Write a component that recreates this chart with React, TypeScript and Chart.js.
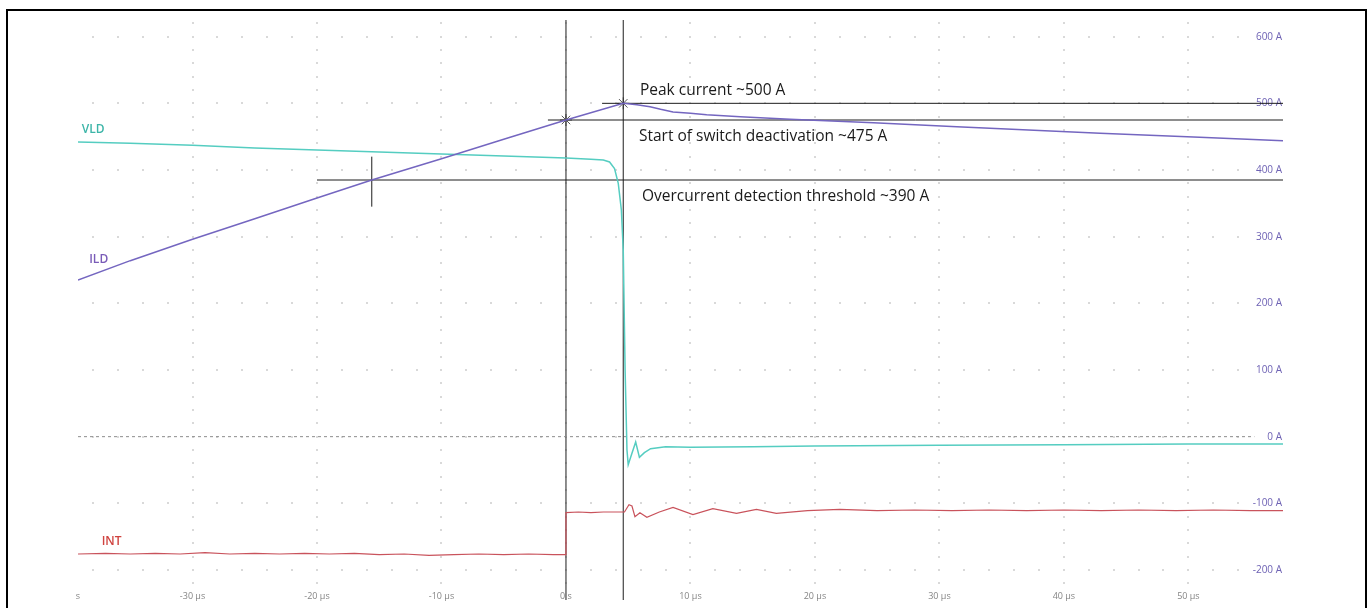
import React, { useEffect, useRef } from 'react';
import { Chart, registerables } from 'chart.js';
Chart.register(...registerables);

// ---- axis ranges / ticks ----
const X_MIN = -39.2;
const X_MAX = 57.6;
const Y_MIN = -230;
const Y_MAX = 628;
const X_STEP = 10;
const Y_STEP = 100;

// ---- series ----
const VLD_T = [-39.2, -35, -30, -25, -20, -15, -10, -5, 0, 2, 3.0, 3.5, 3.9, 4.2, 4.45, 4.6, 4.75, 4.9, 5.0, 5.3, 5.6, 5.9, 6.3, 6.8, 8, 10, 15, 20, 30, 40, 50, 57.6];
const VLD_A = [442, 440, 437, 433, 430, 427, 424, 421, 418, 416, 415, 412, 402, 380, 340, 280, 100, -20, -42, -25, -8, -31, -24, -18, -15, -16, -15, -14, -13, -12, -11, -11];

const ILD_T = [-39.2, -35, -30, -25, -20, -15.6, -10, -5, 0, 4.6, 5.7, 6.75, 7.6, 8.6, 10, 11.3, 14, 18, 24.7, 31.4, 42.9, 50.9, 57.6];
const ILD_A = [235, 264, 296, 327, 358, 385, 417, 446, 475, 500, 498, 495, 491, 487, 485, 483, 480, 476, 471, 465, 455, 449, 444];

const INT_T = [-39.2, -37, -35, -33, -31, -29, -27, -25, -23, -21, -19, -17, -15, -13, -11, -9, -7, -5, -3, -1, 0, 0, 1, 2, 3, 4.5, 4.7, 5.06, 5.3, 5.54, 5.94, 6.5, 7.5, 8.6, 10.2, 11.8, 13.7, 15.3, 16.9, 19.4, 22, 25, 28, 31, 34, 37, 40, 43, 46, 49, 52, 55, 57.6];
const INT_A = [-176, -175, -176, -175, -176, -174, -176, -175, -176, -175, -176, -175, -177, -176, -178, -177, -176, -177, -176, -177, -177, -114, -113, -114, -113, -113, -113, -102, -104, -120, -114, -121, -113, -106, -117, -108, -115, -109, -115, -111, -109, -111, -110, -111, -110, -111, -110, -111, -110, -111, -110, -111, -111];

const ZERO_T = [-39.2, 55.3];
const ZERO_A = [0, 0];

// ---- cursors & markers ----
const CURSOR_V_T = [0, 4.6];
const CURSOR_V_SPAN = [-245, 625];
const CURSOR_H_A = [500, 475, 385];
const CURSOR_H_START = [2.9, -1.45, -20];
const CROSS_T = -15.6;
const CROSS_SPAN = [345, 420];
const MARK_T = [0, 4.6];
const MARK_A = [475, 500];

// ---- text annotations (anchor in data units) ----
const NOTE_TEXT = ['Peak current ~500 A', 'Start of switch deactivation ~475 A', 'Overcurrent detection threshold ~390 A'];
const NOTE_T = [5.94, 5.86, 6.1];
const NOTE_A = [513, 444, 354];

const SERIES_LABEL = ['VLD', 'ILD', 'INT'];
const SERIES_LABEL_T = [-38.9, -38.3, -37.3];
const SERIES_LABEL_A = [456, 261, -162];

const C_VLD = '#55cdc1';
const C_ILD = '#7466c0';
const C_INT = '#c9535c';
const LABEL_COLORS = ['#3db5a8', '#7a5cb8', '#d0433f'];

const pts = (t: number[], a: number[]) => t.map((x, i) => ({ x, y: a[i] }));

const gridDots = {
  id: 'gridDots',
  beforeDatasetsDraw(chart: any) {
    const { ctx, scales } = chart;
    const x = scales.x;
    const y = scales.y;
    ctx.save();
    ctx.fillStyle = '#d9d9d9';
    for (let t = -30; t <= 50; t += 10) {
      const px = Math.round(x.getPixelForValue(t));
      for (let v = 620; v >= -220; v -= 20) {
        const py = Math.round(y.getPixelForValue(v));
        ctx.fillRect(px - 1, py - 1, 2, 2);
      }
    }
    for (let v = -200; v <= 600; v += 100) {
      const py = Math.round(y.getPixelForValue(v));
      for (let t = -38; t <= 54; t += 2) {
        const px = Math.round(x.getPixelForValue(t));
        ctx.fillRect(px - 1, py - 1, 2, 2);
      }
    }
    ctx.restore();
  },
};

const notes = {
  id: 'notes',
  afterDatasetsDraw(chart: any) {
    const { ctx, scales } = chart;
    const x = scales.x;
    const y = scales.y;
    ctx.save();
    ctx.textAlign = 'left';
    ctx.textBaseline = 'alphabetic';
    ctx.fillStyle = '#1a1a1a';
    ctx.font = '15.5px "Open Sans"';
    NOTE_TEXT.forEach((s, i) => {
      ctx.fillText(s, x.getPixelForValue(NOTE_T[i]), y.getPixelForValue(NOTE_A[i]));
    });
    ctx.font = '600 12px "Open Sans"';
    SERIES_LABEL.forEach((s, i) => {
      ctx.fillStyle = LABEL_COLORS[i];
      ctx.fillText(s, x.getPixelForValue(SERIES_LABEL_T[i]), y.getPixelForValue(SERIES_LABEL_A[i]));
    });
    ctx.restore();
  },
};

export default function App() {
  const ref = useRef<HTMLCanvasElement>(null);
  useEffect(() => {
    const cursorColor = '#1c1c1c';
    const datasets: any[] = [
      { label: 'ILD', data: pts(ILD_T, ILD_A), borderColor: C_ILD, borderWidth: 1.5, pointRadius: 0 },
      { label: 'VLD', data: pts(VLD_T, VLD_A), borderColor: C_VLD, borderWidth: 1.5, pointRadius: 0 },
      { label: 'INT', data: pts(INT_T, INT_A), borderColor: C_INT, borderWidth: 1.2, pointRadius: 0 },
      { label: 'zero', data: pts(ZERO_T, ZERO_A), borderColor: '#8c8c8c', borderWidth: 1, borderDash: [3, 3], pointRadius: 0 },
    ];
    CURSOR_V_T.forEach((t) => {
      datasets.push({ data: [{ x: t, y: CURSOR_V_SPAN[0] }, { x: t, y: CURSOR_V_SPAN[1] }], borderColor: cursorColor, borderWidth: 1, pointRadius: 0, clip: false });
    });
    CURSOR_H_A.forEach((a, i) => {
      datasets.push({ data: [{ x: CURSOR_H_START[i], y: a }, { x: X_MAX, y: a }], borderColor: cursorColor, borderWidth: 1, pointRadius: 0 });
    });
    datasets.push({ data: [{ x: CROSS_T, y: CROSS_SPAN[0] }, { x: CROSS_T, y: CROSS_SPAN[1] }], borderColor: cursorColor, borderWidth: 1, pointRadius: 0 });
    datasets.push({ data: pts(MARK_T, MARK_A), showLine: false, pointStyle: 'star', pointRadius: 6, borderColor: '#555', borderWidth: 1, backgroundColor: '#555' });

    const chart = new Chart(ref.current as HTMLCanvasElement, {
      type: 'line',
      data: { datasets },
      options: {
        animation: false,
        responsive: false,
        devicePixelRatio: 1,
        layout: { padding: { left: 78, right: 87, top: 18, bottom: 0 } },
        plugins: { legend: { display: false }, tooltip: { enabled: false } },
        elements: { line: { tension: 0 } },
        scales: {
          x: {
            type: 'linear',
            min: X_MIN,
            max: X_MAX,
            grid: { display: false, drawTicks: false },
            border: { display: false },
            afterFit: (s: any) => { s.height = 18; },
            ticks: {
              stepSize: X_STEP,
              includeBounds: true,
              autoSkip: false,
              maxRotation: 0,
              padding: 1,
              color: '#858585',
              font: { family: '"Open Sans"', size: 9 },
              callback: (v: any) => {
                const n = Number(v);
                if (n === X_MIN) return 's';
                if (n === X_MAX) return '';
                if (n === 0) return '0 s';
                return `${n} µs`;
              },
            },
          },
          y: {
            type: 'linear',
            position: 'right',
            min: Y_MIN,
            max: Y_MAX,
            grid: { display: false, drawTicks: false },
            border: { display: false },
            afterFit: (s: any) => { s.width = 0; },
            ticks: {
              stepSize: Y_STEP,
              includeBounds: false,
              mirror: true,
              padding: -1,
              color: '#6e62b4',
              font: { family: '"Open Sans"', size: 10 },
              callback: (v: any) => `${v} A`,
            },
          },
        },
      },
      plugins: [gridDots, notes],
    } as any);
    return () => chart.destroy();
  }, []);

  return (
    <div style={{ position: 'fixed', left: 0, top: 0, width: 1370, height: 608, overflow: 'hidden', background: '#fff' }}>
      <canvas ref={ref} width={1370} height={608} style={{ position: 'absolute', left: 0, top: 0, width: 1370, height: 608 }} />
      <div style={{ position: 'absolute', left: 6, top: 9, width: 1361, height: 640, border: '2px solid #000', boxSizing: 'border-box', pointerEvents: 'none' }} />
    </div>
  );
}
